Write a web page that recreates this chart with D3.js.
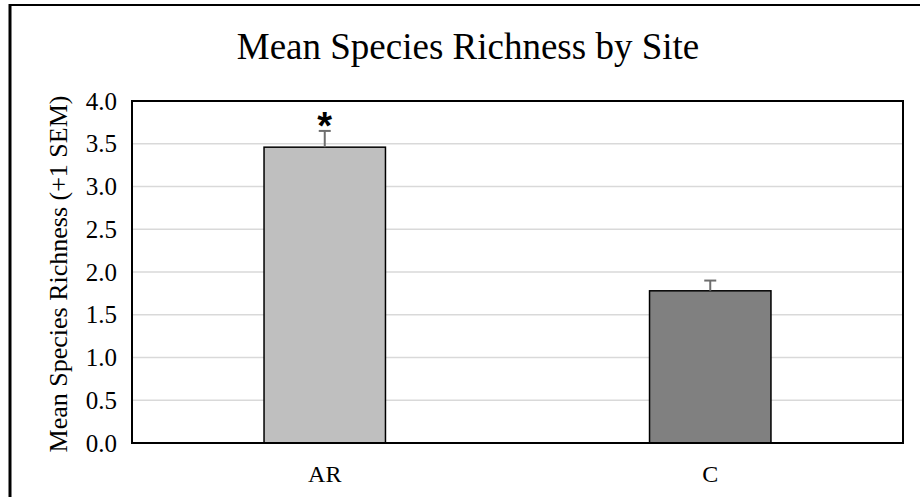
<!DOCTYPE html>
<html>
<head>
<meta charset="utf-8">
<script src="https://cdn.jsdelivr.net/npm/d3@7"></script>
<style>
  html, body { margin: 0; padding: 0; background: #fff; }
  svg { display: block; }
  text { font-family: "Liberation Serif", "Times New Roman", serif; fill: #000; }
</style>
</head>
<body>
<svg id="chart" width="920" height="497"></svg>
<script>
// Site means and standard errors
const sites = ["AR", "C"];
const meanRichness = [3.46, 1.78];
const sem = [0.19, 0.12];
const significant = [true, false];
const barColors = ["#bfbfbf", "#808080"];
const yTicks = [0, 0.5, 1, 1.5, 2, 2.5, 3, 3.5, 4];

const svg = d3.select("#chart");
const W = 920, H = 497;
const plot = { left: 132, top: 101, right: 903, bottom: 443 };

// outer frame (extends past the right and bottom edges)
svg.append("line").attr("x1", 10).attr("x2", W + 10).attr("y1", 5).attr("y2", 5)
  .attr("stroke", "#000").attr("stroke-width", 2);
svg.append("line").attr("x1", 10).attr("x2", 10).attr("y1", 4).attr("y2", H + 10)
  .attr("stroke", "#000").attr("stroke-width", 3);

const x = d3.scaleBand().domain(sites)
  .range([plot.left, plot.right]).paddingInner(0.685).paddingOuter(0.3425);
const y = d3.scaleLinear().domain([0, 4]).range([plot.bottom, plot.top]);

// gridlines
svg.append("g").selectAll("line").data(yTicks.filter(t => t > 0 && t < 4)).join("line")
  .attr("x1", plot.left).attr("x2", plot.right)
  .attr("y1", d => y(d)).attr("y2", d => y(d))
  .attr("stroke", "#d9d9d9").attr("stroke-width", 1.5);

// y axis labels
const yAxis = d3.axisLeft(y).tickValues(yTicks).tickFormat(d3.format(".1f")).tickSize(0).tickPadding(15);
const gy = svg.append("g").attr("transform", `translate(${plot.left},0)`).call(yAxis);
gy.select(".domain").remove();
gy.selectAll("text").style("font-family", '"Liberation Serif", serif').style("font-size", "25px").attr("fill", "#000");

// bars
const data = sites.map((s, i) => ({ site: s, mean: meanRichness[i], sem: sem[i], sig: significant[i], color: barColors[i] }));
svg.append("g").selectAll("rect").data(data).join("rect")
  .attr("x", d => x(d.site)).attr("width", x.bandwidth())
  .attr("y", d => y(d.mean)).attr("height", d => y(0) - y(d.mean))
  .attr("fill", d => d.color).attr("stroke", "#000").attr("stroke-width", 1.5);

// error bars (+1 SEM)
const eb = svg.append("g").attr("stroke", "#6e6e6e").attr("stroke-width", 2);
eb.selectAll("line.v").data(data).join("line").attr("class", "v")
  .attr("x1", d => x(d.site) + x.bandwidth() / 2).attr("x2", d => x(d.site) + x.bandwidth() / 2)
  .attr("y1", d => y(d.mean)).attr("y2", d => y(d.mean + d.sem));
eb.selectAll("line.c").data(data).join("line").attr("class", "c")
  .attr("x1", d => x(d.site) + x.bandwidth() / 2 - 6).attr("x2", d => x(d.site) + x.bandwidth() / 2 + 6)
  .attr("y1", d => y(d.mean + d.sem)).attr("y2", d => y(d.mean + d.sem));

// significance marker
svg.append("g").selectAll("text").data(data.filter(d => d.sig)).join("text")
  .attr("x", d => x(d.site) + x.bandwidth() / 2)
  .attr("y", d => y(d.mean + d.sem) + 8)
  .attr("text-anchor", "middle")
  .style("font-family", '"Liberation Sans", Arial, sans-serif')
  .style("font-size", "38px").style("font-weight", "bold")
  .text("*");

// plot border
svg.append("rect")
  .attr("x", plot.left).attr("y", plot.top)
  .attr("width", plot.right - plot.left).attr("height", plot.bottom - plot.top)
  .attr("fill", "none").attr("stroke", "#000").attr("stroke-width", 2);

// x category labels
svg.append("g").selectAll("text").data(sites).join("text")
  .attr("x", d => x(d) + x.bandwidth() / 2).attr("y", 482)
  .attr("text-anchor", "middle").style("font-size", "24px")
  .text(d => d);

// title
svg.append("text").attr("x", 468).attr("y", 59).attr("text-anchor", "middle")
  .style("font-size", "37px").text("Mean Species Richness by Site");

// y axis title
svg.append("text")
  .attr("transform", `translate(67,${(plot.top + plot.bottom) / 2 + 2}) rotate(-90)`)
  .attr("text-anchor", "middle").style("font-size", "26px")
  .text("Mean Species Richness (+1 SEM)");
</script>
</body>
</html>
